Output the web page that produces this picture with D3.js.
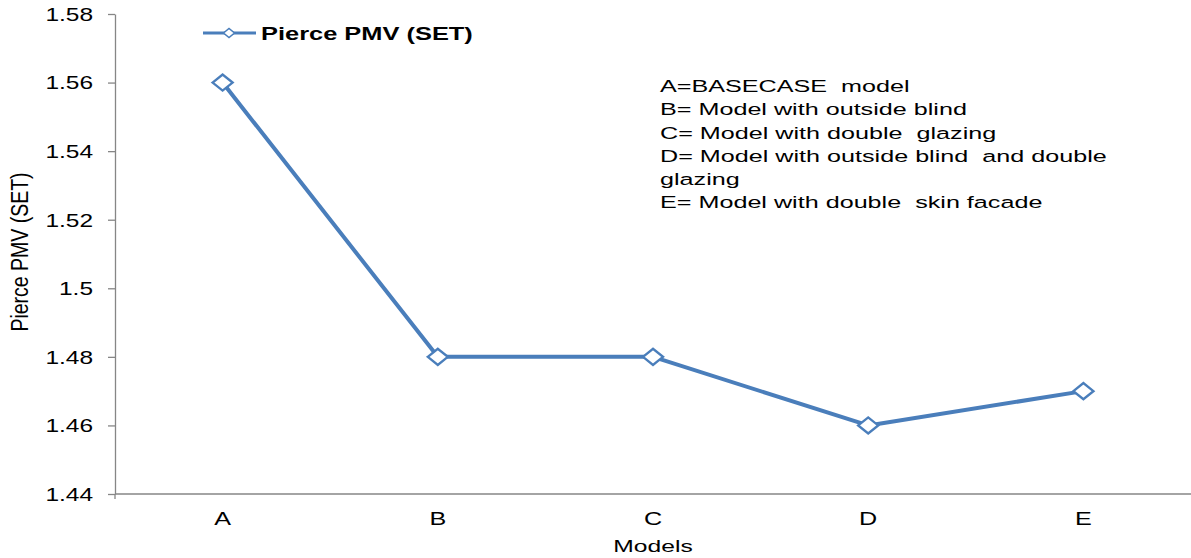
<!DOCTYPE html>
<html>
<head>
<meta charset="utf-8">
<script src="https://cdn.jsdelivr.net/npm/d3@7"></script>
<style>
  html, body { margin: 0; padding: 0; background: #fff; }
  svg { display: block; font-family: "Liberation Sans", Arial, sans-serif; }
</style>
</head>
<body>
<svg id="chart" width="1191" height="558"></svg>
<script>
const categories = ["A", "B", "C", "D", "E"];
const seriesName = "Pierce PMV (SET)";
const pmvValues = [1.56, 1.48, 1.48, 1.46, 1.47];
const yTickValues = [1.44, 1.46, 1.48, 1.50, 1.52, 1.54, 1.56, 1.58];
const yTickLabels = ["1.44", "1.46", "1.48", "1.5", "1.52", "1.54", "1.56", "1.58"];
const xTitle = "Models";
const yTitle = "Pierce PMV (SET)";
const noteLines = [
  "A=BASECASE  model",
  "B= Model with outside blind",
  "C= Model with double  glazing",
  "D= Model with outside blind  and double",
  "glazing",
  "E= Model with double  skin facade"
];

const W = 1191, H = 558;
const plotLeft = 115, plotRight = 1191, plotTop = 14, plotBottom = 494;
const blue = "#4a7ebb", axisGray = "#868686";
const SX = 1.4; // horizontal stretch of the original rendering

const svg = d3.select("#chart");
const x = d3.scaleBand().domain(categories).range([plotLeft, plotRight]);
const y = d3.scaleLinear().domain([1.44, 1.58]).range([plotBottom, plotTop]);

// Y axis
const yAxis = svg.append("g").attr("transform", `translate(${plotLeft},0)`)
  .call(d3.axisLeft(y).tickValues(yTickValues).tickSize(7).tickSizeOuter(0)
    .tickFormat((d, i) => yTickLabels[i]));
yAxis.select(".domain").attr("stroke", axisGray).attr("stroke-width", 1.3);
yAxis.selectAll(".tick line").attr("stroke", axisGray).attr("stroke-width", 1.3);
yAxis.selectAll(".tick text")
  .attr("x", -22 / SX).attr("dy", "0.36em")
  .attr("font-size", 17.5).attr("fill", "#000")
  .attr("font-family", "Liberation Sans, Arial, sans-serif")
  .attr("transform", `scale(${SX},1)`);

// X axis
const xAxis = svg.append("g").attr("transform", `translate(0,${plotBottom})`)
  .call(d3.axisBottom(x).tickSize(0).tickSizeOuter(0));
xAxis.select(".domain").attr("stroke", axisGray).attr("stroke-width", 1.3)
  .attr("d", `M${plotLeft},0H${plotRight}`);
xAxis.append("line").attr("x1", plotLeft).attr("x2", plotLeft).attr("y1", 0).attr("y2", 5)
  .attr("stroke", axisGray).attr("stroke-width", 1.3);
xAxis.selectAll(".tick text")
  .attr("y", 31).attr("dy", 0)
  .attr("font-size", 18).attr("fill", "#000")
  .attr("font-family", "Liberation Sans, Arial, sans-serif")
  .attr("transform", `scale(${SX},1)`);

// Axis titles
svg.append("text")
  .attr("transform", `translate(${x("C") + x.bandwidth() / 2},552) scale(1.45,1)`)
  .attr("text-anchor", "middle").attr("font-size", 17)
  .text(xTitle);
svg.append("text")
  .attr("transform", `translate(28,252) rotate(-90) scale(1,1.25)`)
  .attr("text-anchor", "middle").attr("font-size", 19.5)
  .text(yTitle);

// Line
const cx = (d, i) => x(categories[i]) + x.bandwidth() / 2;
svg.append("path")
  .datum(pmvValues)
  .attr("fill", "none").attr("stroke", blue).attr("stroke-width", 4)
  .attr("stroke-linejoin", "round")
  .attr("d", d3.line().x((d, i) => cx(d, i)).y(d => y(d)));

// Markers
const diamond = "M-1,0L0,-1L1,0L0,1Z";
svg.selectAll(".marker").data(pmvValues).join("path")
  .attr("class", "marker")
  .attr("d", diamond)
  .attr("transform", (d, i) => `translate(${cx(d, i)},${y(d)}) scale(10,8)`)
  .attr("fill", "#fff").attr("stroke", blue).attr("stroke-width", 2.4)
  .attr("vector-effect", "non-scaling-stroke");

// Legend
const lg = svg.append("g");
lg.append("line").attr("x1", 203).attr("x2", 256).attr("y1", 33).attr("y2", 33)
  .attr("stroke", blue).attr("stroke-width", 3.2);
lg.append("path").attr("d", diamond)
  .attr("transform", "translate(229,33) scale(5.5,4.5)")
  .attr("fill", "#fff").attr("stroke", blue).attr("stroke-width", 1.5)
  .attr("vector-effect", "non-scaling-stroke");
const lt = lg.append("text").attr("font-size", 17.5).attr("font-weight", "bold")
  .attr("x", 0).attr("y", 0).text(seriesName);
const ltw = lt.node().getComputedTextLength();
lt.attr("transform", `translate(261,40) scale(${212 / ltw},1)`);

// Note block
const ng = svg.append("g");
const nt = ng.selectAll("text").data(noteLines).join("text")
  .attr("x", 0).attr("y", (d, i) => i * 23.3)
  .attr("font-size", 16.5).attr("fill", "#000")
  .style("white-space", "pre")
  .text(d => d);
const refW = nt.nodes()[3].getComputedTextLength();
ng.attr("transform", `translate(660,92) scale(${447 / refW},1)`);
</script>
</body>
</html>
